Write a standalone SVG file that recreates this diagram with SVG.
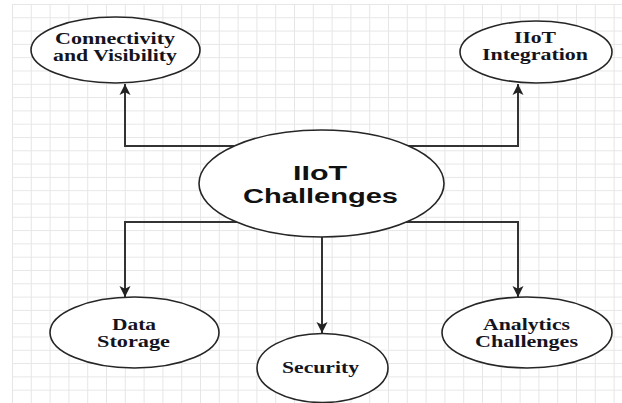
<svg xmlns="http://www.w3.org/2000/svg" width="622" height="403" viewBox="0 0 622 403">
  <defs>
    <pattern id="grid" x="12" y="4" width="18.8" height="13.3" patternUnits="userSpaceOnUse">
      <path d="M0,0.5 H18.8 M0.5,0 V13.3" fill="none" stroke="#e6e6e6" stroke-width="1"/>
    </pattern>
    <marker id="arrow" viewBox="0 0 10 10" refX="10" refY="5" markerWidth="11" markerHeight="15" markerUnits="userSpaceOnUse" orient="auto">
      <path d="M0,0 L10,5 L0,10 L2.5,5 Z" fill="#222"/>
    </marker>
  </defs>
  <style>
    .node { fill: #ffffff; stroke: #262626; stroke-width: 1.6; }
    .lbl { font-family: "Liberation Serif", "Times New Roman", serif; font-weight: bold; font-size: 16px; fill: #14141e; text-anchor: middle; }
    .main { font-family: "Liberation Sans", Arial, sans-serif; font-weight: bold; font-size: 20px; fill: #111; text-anchor: middle; }
    .edge { fill: none; stroke: #333; stroke-width: 2; marker-end: url(#arrow); }
  </style>
  <rect x="0" y="0" width="622" height="403" fill="#ffffff"/>
  <rect x="12" y="4" width="610" height="399" fill="url(#grid)"/>

  <g id="connectors">
    <path class="edge" d="M234,146 H125 V84"/>
    <path class="edge" d="M408,146 H518 V84"/>
    <path class="edge" d="M238,222 H125 V297"/>
    <path class="edge" d="M404,222 H518 V297"/>
    <path class="edge" d="M322,237 V333"/>
  </g>

  <g id="connectivity">
    <ellipse class="node" cx="115.5" cy="50" rx="84.5" ry="33"/>
    <text class="lbl" x="115" y="44" textLength="120" lengthAdjust="spacingAndGlyphs">Connectivity</text>
    <text class="lbl" x="115" y="61" textLength="124" lengthAdjust="spacingAndGlyphs">and Visibility</text>
  </g>

  <g id="iiot-integration">
    <ellipse class="node" cx="536" cy="52" rx="76" ry="31"/>
    <text class="lbl" x="535" y="43" textLength="42" lengthAdjust="spacingAndGlyphs">IIoT</text>
    <text class="lbl" x="535" y="60" textLength="106" lengthAdjust="spacingAndGlyphs">Integration</text>
  </g>

  <g id="iiot-challenges">
    <ellipse class="node" cx="321.5" cy="183.5" rx="122.5" ry="53.5"/>
    <text class="main" x="320" y="180" textLength="54" lengthAdjust="spacingAndGlyphs">IIoT</text>
    <text class="main" x="320.5" y="203" textLength="155" lengthAdjust="spacingAndGlyphs">Challenges</text>
  </g>

  <g id="data-storage">
    <ellipse class="node" cx="134.5" cy="332.5" rx="84.5" ry="35.5"/>
    <text class="lbl" x="134" y="330" textLength="44" lengthAdjust="spacingAndGlyphs">Data</text>
    <text class="lbl" x="133.5" y="347" textLength="73" lengthAdjust="spacingAndGlyphs">Storage</text>
  </g>

  <g id="security">
    <ellipse class="node" cx="322.5" cy="368" rx="65.5" ry="34.5"/>
    <text class="lbl" x="320.5" y="373" textLength="77" lengthAdjust="spacingAndGlyphs">Security</text>
  </g>

  <g id="analytics">
    <ellipse class="node" cx="527" cy="332.5" rx="85" ry="35.5"/>
    <text class="lbl" x="526.5" y="330" textLength="87" lengthAdjust="spacingAndGlyphs">Analytics</text>
    <text class="lbl" x="526.5" y="347" textLength="103" lengthAdjust="spacingAndGlyphs">Challenges</text>
  </g>
</svg>
